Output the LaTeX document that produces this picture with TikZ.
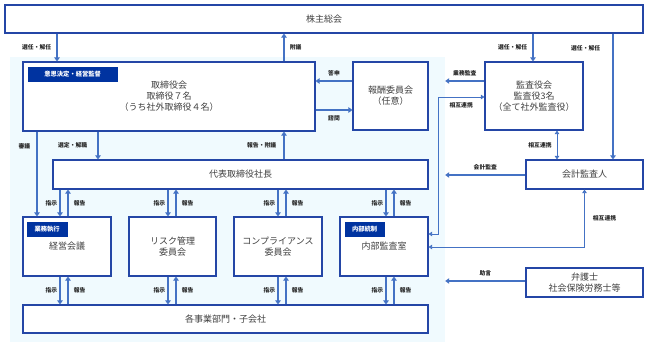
\documentclass[tikz,border=0pt]{standalone}
\usepackage{fontspec}
\setmainfont{Noto Sans CJK JP}
\usepackage{xcolor}
\usetikzlibrary{arrows.meta,positioning,calc}
\definecolor{boxblue}{HTML}{2446A6}
\definecolor{arrblue}{HTML}{4472C4}
\definecolor{tagblue}{HTML}{0033A0}
\definecolor{bgcyan}{HTML}{F0FAFE}

\begin{document}
\begin{tikzpicture}[x=1pt, y=-1pt,
  font=\fontsize{9}{11}\selectfont,
  box/.style={draw=boxblue, line width=1.1pt, fill=white, align=center, inner sep=0pt, text=black!75},
  tag/.style={fill=tagblue, text=white, font=\fontsize{6.3}{7}\selectfont\bfseries, inner sep=0pt, minimum height=15pt},
  arr/.style={-{Triangle[length=4pt,width=5.5pt]}, line width=1.7pt, draw=arrblue},
  link/.style={{Triangle[length=3.5pt,width=4.5pt]}-{Triangle[length=3.5pt,width=4.5pt]}, line width=0.8pt, draw=arrblue},
  lbl/.style={font=\fontsize{5.8}{6.5}\selectfont\bfseries, text=black!85, inner sep=2pt}]
\useasboundingbox (0,0) rectangle (648,346);
% company side
\node[fill=bgcyan, minimum width=435pt, minimum height=285pt, inner sep=0pt] (bg) at (227.5,199.5) {};
\node[box, minimum width=638pt, minimum height=28pt] (gm) at (324,19) {株主総会};
\node[box, minimum width=292pt, minimum height=69pt] (board) at (169,96.5)
  {取締役会\\取締役７名\\（うち社外取締役４名）};
\node[tag, minimum width=90pt, below right=5pt and 5pt of board.north west] {意思決定・経営監督};
\node[box, minimum width=75pt, minimum height=68pt] (comp) at (390.5,96) {報酬委員会\\（任意）};
\node[box, minimum width=375pt, minimum height=29pt] (pres) at (240.5,174.5) {代表取締役社長};
\node[box, minimum width=88pt, minimum height=59pt] (mtg) at (67,246.5) {経営会議};
\node[tag, minimum width=41pt, below right=5pt and 4pt of mtg.north west] {業務執行};
\node[box, minimum width=87pt, minimum height=59pt] (risk) at (172.5,246.5) {リスク管理\\委員会};
\node[box, minimum width=88pt, minimum height=59pt] (comply) at (278,246.5) {コンプライアンス\\委員会};
\node[box, minimum width=88pt, minimum height=59pt] (ia) at (384,246.5) {内部監査室};
\node[tag, minimum width=40pt, below right=5pt and 5pt of ia.north west] {内部統制};
\node[box, minimum width=405pt, minimum height=28pt] (depts) at (225.5,319) {各事業部門・子会社};
% outside
\node[box, minimum width=98pt, minimum height=68pt] (kansa) at (534,96)
  {監査役会\\監査役3名\\（全て社外監査役）};
\node[box, minimum width=117pt, minimum height=29pt] (audit) at (584.5,174.5) {会計監査人};
\node[box, minimum width=117pt, minimum height=29pt] (lawyer) at (584.5,282.5) {弁護士\\社会保険労務士等};
% shareholders and board
\draw[arr] (gm.south -| 57,0) -- node[lbl, left=3pt] {選任・解任} (board.north -| 57,0);
\draw[arr] (board.north -| 284,0) -- node[lbl, right=3pt] {附議} (gm.south -| 284,0);
\draw[arr] (comp.west |- 0,81) -- node[lbl, above=2pt] {答申} (board.east |- 0,81);
\draw[arr] (board.east |- 0,110) -- node[lbl, below=3pt] {諮問} (comp.west |- 0,110);
\draw[arr] (gm.south -| 533,0) -- node[lbl, left=3pt] {選任・解任} (kansa.north -| 533,0);
\draw[arr] (gm.south -| 613,0) -- node[lbl, left=10pt, pos=0.12] {選任・解任} (audit.north -| 613,0);
% auditors
\draw[arr] (kansa.west |- 0,81) -- node[lbl, above=2pt] {業務監査} (bg.east |- 0,81);
\draw[arr] (audit.west |- 0,175) -- node[lbl, above=2pt] {会計監査} (bg.east |- 0,175);
\draw[arr] (lawyer.west |- 0,281) -- node[lbl, above=2pt] {助言} (bg.east |- 0,281);
\draw[link] (kansa.south -| 557,0) -- node[lbl, left=3pt] {相互連携} (audit.north -| 557,0);
\draw[link] (kansa.west |- 0,97) -| node[lbl, pos=0.25, below=3pt] {相互連携} (438,234) -- (ia.east |- 0,234);
\draw[link] (audit.south) |- node[lbl, pos=0.25, right=6pt] {相互連携} (ia.east |- 0,247);
% board and president
\draw[arr] (board.south -| 98,0) -- node[lbl, left=8pt] {選定・解職} (pres.north -| 98,0);
\draw[arr] (pres.north -| 284,0) -- node[lbl, left=5pt] {報告・附議} (board.south -| 284,0);
\draw[arr] (board.south -| 37,0) -- node[lbl, left=4pt, pos=0.17] {審議} (mtg.north -| 37,0);
% president to committees
\draw[arr] (pres.south -| 60,0) -- node[lbl, left] {指示} (mtg.north -| 60,0);
\draw[arr] (mtg.north -| 68,0) -- node[lbl, right=3pt] {報告} (pres.south -| 68,0);
\draw[arr] (pres.south -| 168,0) -- node[lbl, left] {指示} (risk.north -| 168,0);
\draw[arr] (risk.north -| 176,0) -- node[lbl, right=3pt] {報告} (pres.south -| 176,0);
\draw[arr] (pres.south -| 278,0) -- node[lbl, left] {指示} (comply.north -| 278,0);
\draw[arr] (comply.north -| 286,0) -- node[lbl, right=3pt] {報告} (pres.south -| 286,0);
\draw[arr] (pres.south -| 386,0) -- node[lbl, left] {指示} (ia.north -| 386,0);
\draw[arr] (ia.north -| 394,0) -- node[lbl, right=3pt] {報告} (pres.south -| 394,0);
% committees to departments
\draw[arr] (mtg.south -| 60,0) -- node[lbl, left] {指示} (depts.north -| 60,0);
\draw[arr] (depts.north -| 68,0) -- node[lbl, right=3pt] {報告} (mtg.south -| 68,0);
\draw[arr] (risk.south -| 168,0) -- node[lbl, left] {指示} (depts.north -| 168,0);
\draw[arr] (depts.north -| 176,0) -- node[lbl, right=3pt] {報告} (risk.south -| 176,0);
\draw[arr] (comply.south -| 278,0) -- node[lbl, left] {指示} (depts.north -| 278,0);
\draw[arr] (depts.north -| 286,0) -- node[lbl, right=3pt] {報告} (comply.south -| 286,0);
\draw[arr] (ia.south -| 386,0) -- node[lbl, left] {指示} (depts.north -| 386,0);
\draw[arr] (depts.north -| 394,0) -- node[lbl, right=3pt] {報告} (ia.south -| 394,0);
\end{tikzpicture}
\end{document}
